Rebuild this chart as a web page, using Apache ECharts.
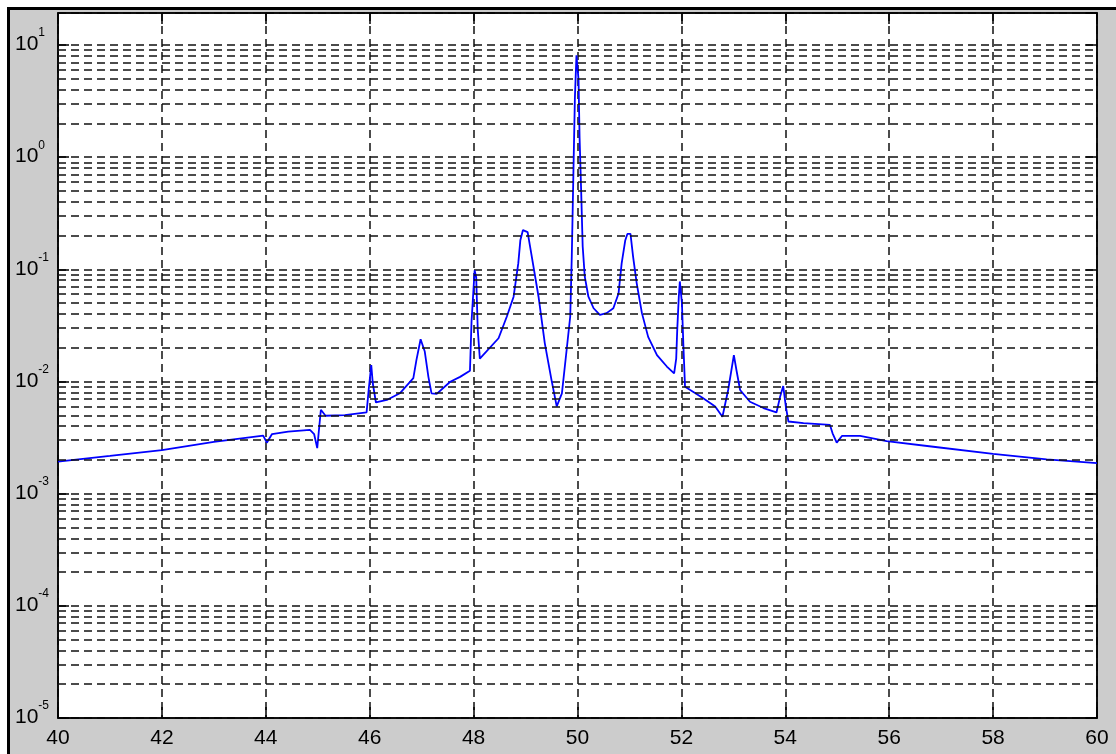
<!DOCTYPE html>
<html>
<head>
<meta charset="utf-8">
<title>Spectrum</title>
<script src="https://cdn.jsdelivr.net/npm/echarts@6/dist/echarts.min.js"></script>
<style>
  html, body { margin: 0; padding: 0; background: #ffffff; }
  #frame {
    position: absolute; left: 7px; top: 7px; right: 0; bottom: 0;
    background: #cccccc; border-left: 3px solid #000; border-top: 3px solid #000;
  }
  #chart { position: absolute; left: 0; top: 0; width: 1116px; height: 754px; }
</style>
</head>
<body>
<div id="frame"></div>
<div id="chart"></div>
<script>
// Frequency axis samples and the spectrum magnitude at each of them
const freq = [
  40.00, 41.00, 42.00, 43.00, 43.95, 44.02, 44.12, 44.43, 44.85, 44.93,
  44.99, 45.06, 45.15, 45.52, 45.94, 45.98, 46.03, 46.06, 46.12, 46.33,
  46.58, 46.84, 46.90, 46.98, 47.06, 47.13, 47.19, 47.29, 47.55, 47.74,
  47.93, 47.96, 48.02, 48.05, 48.08, 48.12, 48.48, 48.64, 48.77, 48.86,
  48.90, 48.95, 49.04, 49.12, 49.25, 49.37, 49.50, 49.60, 49.70, 49.79,
  49.86, 49.89, 49.92, 49.95, 49.98, 50.02, 50.04, 50.07, 50.10, 50.14,
  50.21, 50.31, 50.43, 50.56, 50.69, 50.79, 50.85, 50.92, 50.96, 51.02,
  51.07, 51.14, 51.24, 51.36, 51.53, 51.72, 51.86, 51.90, 51.92, 51.95,
  51.97, 52.01, 52.04, 52.07, 52.17, 52.42, 52.65, 52.79, 52.90, 53.01,
  53.06, 53.13, 53.32, 53.58, 53.83, 53.90, 53.96, 54.01, 54.06, 54.35,
  54.86, 54.91, 54.99, 55.09, 55.44, 55.95, 56.85, 58.00, 59.03, 60.00
];
const magnitude = [
  1.93e-3, 2.17e-3, 2.45e-3, 2.90e-3, 3.29e-3, 2.85e-3, 3.40e-3, 3.57e-3, 3.70e-3, 3.40e-3,
  2.55e-3, 5.60e-3, 4.95e-3, 5.02e-3, 5.30e-3, 8.40e-3, 1.40e-2, 9.60e-3, 6.50e-3, 6.85e-3,
  7.85e-3, 1.07e-2, 1.56e-2, 2.38e-2, 1.85e-2, 1.10e-2, 7.85e-3, 7.75e-3, 9.95e-3, 1.10e-2,
  1.25e-2, 3.40e-2, 9.80e-2, 8.50e-2, 2.90e-2, 1.60e-2, 2.43e-2, 3.80e-2, 5.70e-2, 0.113,
  0.182, 0.224, 0.215, 0.130, 5.70e-2, 2.20e-2, 1.03e-2, 6.00e-3, 7.85e-3, 1.90e-2,
  3.80e-2, 0.130, 0.680, 3.40, 8.10, 4.90, 1.50, 0.510, 0.160, 8.60e-2,
  5.70e-2, 4.50e-2, 3.92e-2, 4.07e-2, 4.50e-2, 6.10e-2, 0.113, 0.182, 0.207, 0.207,
  0.130, 7.50e-2, 4.07e-2, 2.50e-2, 1.72e-2, 1.36e-2, 1.18e-2, 1.60e-2, 2.90e-2, 5.70e-2,
  7.80e-2, 5.00e-2, 2.00e-2, 9.00e-3, 8.40e-3, 7.10e-3, 6.00e-3, 4.85e-3, 8.40e-3, 1.72e-2,
  1.26e-2, 8.40e-3, 6.60e-3, 5.80e-3, 5.30e-3, 7.30e-3, 9.10e-3, 6.00e-3, 4.40e-3, 4.25e-3,
  4.10e-3, 3.45e-3, 2.85e-3, 3.27e-3, 3.27e-3, 2.94e-3, 2.62e-3, 2.26e-3, 2.02e-3, 1.87e-3
];

// Axis ranges
const xRange = [40, 60];
const xStep = 2;
const yRange = [1e-5, 19.3];
// Decades that get a full set of minor grid lines (2..9 x 10^k)
const decades = [-5, -4, -3, -2, -1, 0];
const minorMultipliers = [2, 3, 4, 5, 6, 7, 8, 9];

const minorLevels = [];
decades.forEach(k => minorMultipliers.forEach(m => minorLevels.push(m * Math.pow(10, k))));

const points = freq.map((f, i) => [f, magnitude[i]]);

const gridDash = { color: '#111', width: 1.5, type: [8, 5] };
const font = '"Liberation Sans", Arial, sans-serif';

function decadeLabel(v) {
  const e = Math.log10(v);
  const r = Math.round(e);
  if (Math.abs(e - r) > 1e-6) return '';
  return '{b|10}{s|' + r + '}';
}

const chart = echarts.init(document.getElementById('chart'), null, { renderer: 'canvas' });
chart.setOption({
  animation: false,
  backgroundColor: 'transparent',
  grid: {
    left: 58, top: 13, right: 19, bottom: 36,
    show: true, backgroundColor: '#ffffff', borderColor: '#000', borderWidth: 1.5
  },
  xAxis: [{
    type: 'value', min: xRange[0], max: xRange[1], interval: xStep,
    axisLine: { show: true, lineStyle: { color: '#000', width: 1.5 } },
    axisTick: { show: true, inside: true, length: 11, lineStyle: { color: '#000', width: 1.5 } },
    axisLabel: { color: '#000', fontSize: 21, fontFamily: font, margin: 10 },
    splitLine: { show: true, lineStyle: gridDash }
  }, {
    type: 'value', position: 'top', min: xRange[0], max: xRange[1], interval: xStep,
    axisLine: { show: true, lineStyle: { color: '#000', width: 1.5 } },
    axisTick: { show: true, inside: true, length: 11, lineStyle: { color: '#000', width: 1.5 } },
    axisLabel: { show: false }, splitLine: { show: false }
  }],
  yAxis: [{
    type: 'log', logBase: 10, min: yRange[0], max: yRange[1],
    axisLine: { show: true, lineStyle: { color: '#000', width: 1.5 } },
    axisTick: { show: true, inside: true, length: 11, lineStyle: { color: '#000', width: 1.5 } },
    axisLabel: {
      formatter: decadeLabel, align: 'left', margin: 43, padding: [0, 0, 8, 0],
      showMaxLabel: false,
      rich: {
        b: { fontSize: 21, fontFamily: font, color: '#000', lineHeight: 28, verticalAlign: 'bottom' },
        s: { fontSize: 12, fontFamily: font, color: '#000', lineHeight: 12, verticalAlign: 'top' }
      }
    },
    splitLine: { show: true, lineStyle: gridDash }
  }, {
    type: 'log', logBase: 10, min: yRange[0], max: yRange[1], position: 'right',
    axisLine: { show: true, lineStyle: { color: '#000', width: 1.5 } },
    axisTick: { show: true, inside: true, length: 11, lineStyle: { color: '#000', width: 1.5 } },
    axisLabel: { show: false }, splitLine: { show: false }
  }],
  series: [{
    // minor logarithmic grid lines at 2..9 x 10^k
    type: 'line', data: [], z: 1, silent: true,
    markLine: {
      silent: true, symbol: 'none', animation: false, precision: 10,
      label: { show: false },
      lineStyle: gridDash,
      data: minorLevels.map(v => ({ yAxis: v }))
    }
  }, {
    type: 'line', data: points, z: 3,
    showSymbol: false, symbol: 'none',
    lineStyle: { color: '#0000ff', width: 1.8 },
    itemStyle: { color: '#0000ff' }
  }]
});
</script>
</body>
</html>
